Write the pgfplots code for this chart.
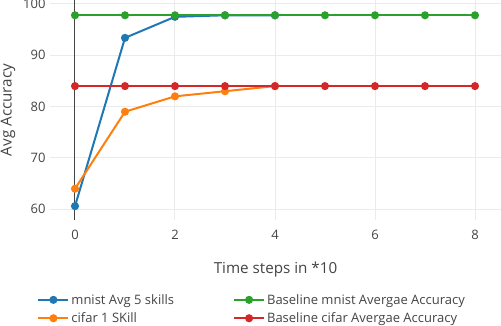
\documentclass[border=0pt]{standalone}
\usepackage{pgfplots}
\pgfplotsset{compat=1.18}
\usepackage{fontspec}
\setmainfont{Open Sans}
\definecolor{txt}{HTML}{444444}
\definecolor{gridc}{HTML}{EBEBEB}
\definecolor{cblue}{HTML}{1F77B4}
\definecolor{corange}{HTML}{FF7F0E}
\definecolor{cgreen}{HTML}{2CA02C}
\definecolor{cred}{HTML}{D62728}
\begin{document}
\begin{tikzpicture}
\begin{axis}[
  scale only axis,
  width=451pt, height=220pt,
  xmin=-0.5, xmax=8.52,
  ymin=57.9, ymax=100.78,
  xtick={0,2,4,6,8},
  ytick={60,70,80,90,100},
  extra x ticks={0},
  extra x tick labels={},
  extra x tick style={major grid style={draw=txt, line width=1pt}},
  major tick length=0pt,
  axis line style={draw=none},
  grid=major,
  major grid style={draw=gridc, line width=1pt},
  tick label style={font=\fontsize{13}{15}\selectfont, text=txt},
  /pgf/number format/assume math mode=true,
  xticklabel style={yshift=-7pt},
  yticklabel style={xshift=-1pt},
  xlabel={Time steps in *10},
  ylabel={Avg Accuracy},
  every axis x label/.style={at={(axis description cs:0.5,-0.227)}, anchor=center,
    font=\fontsize{15.2}{17}\selectfont, text=txt},
  every axis y label/.style={at={(axis description cs:-0.093,0.5)}, anchor=center, rotate=90,
    font=\fontsize{15.2}{17}\selectfont, text=txt},
  legend columns=2,
  transpose legend,
  legend style={at={(axis description cs:-0.035,-0.318)}, anchor=north west,
    draw=none, fill=none, font=\fontsize{13}{15}\selectfont, text=txt,
    /tikz/every even column/.append style={column sep=57pt},
    row sep=3pt},
  legend cell align=left,
  legend image code/.code={
    \draw[#1, mark=none] (0pt,0pt) -- (30pt,0pt);
    \draw[#1, only marks] plot coordinates {(15pt,0pt)};
  },
  every axis plot/.append style={line width=2pt, mark=*, mark size=3pt},
]
\addplot[cblue, mark options={fill=cblue, draw=cblue}] coordinates {(0,60.6) (1,93.4) (2,97.5) (3,97.8) (4,97.8)};
\addplot[corange, mark options={fill=corange, draw=corange}] coordinates {(0,64.0) (1,79.0) (2,82.0) (3,83.0) (4,84.0)};
\addplot[cgreen, mark options={fill=cgreen, draw=cgreen}] coordinates {(0,97.8) (1,97.8) (2,97.8) (3,97.8) (4,97.8) (5,97.8) (6,97.8) (7,97.8) (8,97.8)};
\addplot[cred, mark options={fill=cred, draw=cred}] coordinates {(0,84) (1,84) (2,84) (3,84) (4,84) (5,84) (6,84) (7,84) (8,84)};
\legend{mnist Avg 5 skills, cifar 1 SKill, Baseline mnist Avergae Accuracy, Baseline cifar Avergae Accuracy}
\end{axis}
\pgfresetboundingbox
\path[use as bounding box] (-50pt,-106pt) rectangle (451pt,220pt);
\end{tikzpicture}
\end{document}
